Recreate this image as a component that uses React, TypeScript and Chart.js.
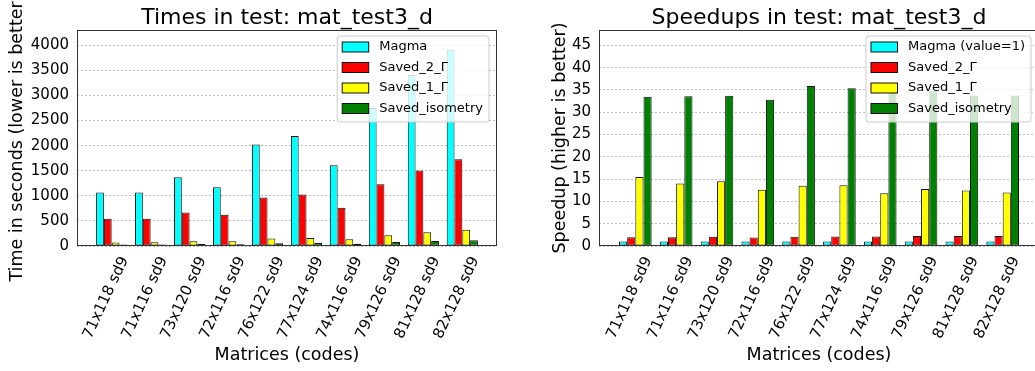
import React, { useEffect, useRef } from 'react';
import { Chart, registerables } from 'chart.js';

Chart.register(...registerables);

const FONT = "'DejaVu Sans', Verdana, sans-serif";

const categories = ['71x118 sd9', '71x116 sd9', '73x120 sd9', '72x116 sd9', '76x122 sd9', '77x124 sd9', '74x116 sd9', '79x126 sd9', '81x128 sd9', '82x128 sd9'];

const timeMagma = [1068, 1068, 1369, 1169, 2023, 2190, 1609, 2751, 3406, 3913];
const timeSaved2 = [541, 541, 668, 621, 968, 1028, 761, 1229, 1503, 1730];
const timeSaved1 = [69, 76, 94, 93, 150, 160, 136, 215, 274, 326];
const timeIsometry = [32, 32, 41, 36, 56, 62, 47, 79, 101, 116];

const speedMagma = [1, 1, 1, 1, 1, 1, 1, 1, 1, 1];
const speedSaved2 = [1.97, 1.97, 2.05, 1.88, 2.09, 2.13, 2.11, 2.24, 2.27, 2.26];
const speedSaved1 = [15.45, 14.0, 14.5, 12.6, 13.5, 13.65, 11.85, 12.8, 12.45, 12.0];
const speedIsometry = [33.45, 33.6, 33.7, 32.8, 35.9, 35.4, 34.4, 34.7, 33.75, 33.75];

const timeLabels = ['Magma', 'Saved_2_Γ', 'Saved_1_Γ', 'Saved_isometry'];
const speedLabels = ['Magma (value=1)', 'Saved_2_Γ', 'Saved_1_Γ', 'Saved_isometry'];
const colors = ['#00ffff', '#ff0000', '#ffff00', '#008000'];

const timeYTicks = [0, 500, 1000, 1500, 2000, 2500, 3000, 3500, 4000];
const speedYTicks = [0, 5, 10, 15, 20, 25, 30, 35, 40, 45];
const timeYMax = 4305;
const speedYMax = 48.45;

type PanelCfg = {
  left: number;
  width: number;
  yAxisWidth: number;
  padRight: number;
  title: string;
  yTitle: string;
  xTitle: string;
  yTitleX: number;
  labels: string[];
  series: number[][];
  yMax: number;
  yTicks: number[];
};

function decorPlugin(cfg: PanelCfg) {
  return {
    id: 'decor',
    afterDatasetsDraw(chart: any) {
      const { ctx, chartArea: a } = chart;
      ctx.save();
      ctx.strokeStyle = '#333333';
      ctx.lineWidth = 1;
      ctx.strokeRect(a.left + 0.5, a.top + 0.5, a.right - a.left - 1, a.bottom - a.top - 1);
      ctx.restore();
    },
    afterDraw(chart: any) {
      const { ctx, chartArea: a } = chart;
      ctx.save();
      ctx.fillStyle = '#000';
      ctx.font = `22px ${FONT}`;
      ctx.textAlign = 'center';
      ctx.textBaseline = 'alphabetic';
      ctx.fillText(cfg.title, (a.left + a.right) / 2, 24);
      ctx.font = `17.5px ${FONT}`;
      ctx.textBaseline = 'middle';
      ctx.fillText(cfg.xTitle, (a.left + a.right) / 2, 355);
      ctx.save();
      ctx.translate(cfg.yTitleX, (a.top + a.bottom) / 2);
      ctx.rotate(-Math.PI / 2);
      ctx.fillText(cfg.yTitle, 0, 0);
      ctx.restore();

      ctx.font = `13px ${FONT}`;
      const datasets = chart.data.datasets;
      let maxW = 0;
      datasets.forEach((d: any) => {
        maxW = Math.max(maxW, ctx.measureText(d.label).width);
      });
      const w = 42 + maxW + 6;
      const h = 86;
      const x = a.right - 8 - w;
      const y = a.top + 6;
      const r = 3;
      ctx.beginPath();
      ctx.moveTo(x + r, y);
      ctx.lineTo(x + w - r, y);
      ctx.arcTo(x + w, y, x + w, y + r, r);
      ctx.lineTo(x + w, y + h - r);
      ctx.arcTo(x + w, y + h, x + w - r, y + h, r);
      ctx.lineTo(x + r, y + h);
      ctx.arcTo(x, y + h, x, y + h - r, r);
      ctx.lineTo(x, y + r);
      ctx.arcTo(x, y, x + r, y, r);
      ctx.closePath();
      ctx.fillStyle = 'rgba(255,255,255,0.8)';
      ctx.fill();
      ctx.strokeStyle = '#cccccc';
      ctx.lineWidth = 1;
      ctx.stroke();
      datasets.forEach((d: any, i: number) => {
        const cy = y + 11 + i * 20.5;
        ctx.fillStyle = d.backgroundColor;
        ctx.fillRect(x + 5, cy - 5, 26.5, 10);
        ctx.strokeStyle = '#111';
        ctx.strokeRect(x + 5, cy - 5, 26.5, 10);
        ctx.fillStyle = '#000';
        ctx.textAlign = 'left';
        ctx.textBaseline = 'middle';
        ctx.fillText(d.label, x + 42, cy);
      });
      ctx.restore();
    },
  };
}

function Panel({ cfg }: { cfg: PanelCfg }) {
  const ref = useRef<HTMLCanvasElement>(null);
  useEffect(() => {
    const chart = new Chart(ref.current as HTMLCanvasElement, {
      type: 'bar',
      data: {
        datasets: cfg.series.map((vals, si) => ({
          label: cfg.labels[si],
          data: vals.map((v, i) => ({ x: i, y: v })),
          backgroundColor: colors[si],
          borderColor: '#111111',
          borderWidth: 1,
          borderSkipped: false,
          categoryPercentage: 0.8,
          barPercentage: 1.0,
        })),
      },
      options: {
        animation: false,
        responsive: false,
        maintainAspectRatio: false,
        layout: { padding: { top: 30, right: cfg.padRight, left: 0, bottom: 0 } },
        plugins: {
          legend: { display: false },
          title: { display: false },
          tooltip: { enabled: false },
        },
        scales: {
          x: {
            type: 'linear',
            min: -0.89,
            max: 9.89,
            offset: false,
            grid: { display: false, drawTicks: false, offset: false },
            border: { display: false },
            afterBuildTicks: (s: any) => {
              s.ticks = categories.map((_, i) => ({ value: i }));
            },
            ticks: {
              autoSkip: false,
              minRotation: 65,
              maxRotation: 65,
              padding: 8,
              labelOffset: 13,
              color: '#000',
              font: { family: FONT, size: 15 },
              callback: (v: any) => categories[v] ?? '',
            },
            afterFit: (s: any) => {
              s.height = 125;
            },
          },
          y: {
            min: 0,
            max: cfg.yMax,
            grid: { color: '#bdbdbd', lineWidth: 1, drawTicks: false },
            border: { display: false, dash: [2, 2] },
            afterBuildTicks: (s: any) => {
              s.ticks = cfg.yTicks.map((v) => ({ value: v }));
            },
            ticks: {
              autoSkip: false,
              padding: 8,
              color: '#000',
              font: { family: FONT, size: 15 },
              callback: (v: any) => String(v),
            },
            afterFit: (s: any) => {
              s.width = cfg.yAxisWidth;
            },
          },
        },
      } as any,
      plugins: [decorPlugin(cfg)],
    });
    return () => chart.destroy();
  }, []);
  return (
    <canvas
      ref={ref}
      width={cfg.width}
      height={371}
      style={{ position: 'absolute', left: cfg.left, top: 0, width: cfg.width, height: 371 }}
    />
  );
}

const leftCfg: PanelCfg = {
  left: 0,
  width: 517,
  yAxisWidth: 77,
  padRight: 20,
  title: 'Times in test: mat_test3_d',
  yTitle: 'Time in seconds (lower is better)',
  xTitle: 'Matrices (codes)',
  yTitleX: 17,
  labels: timeLabels,
  series: [timeMagma, timeSaved2, timeSaved1, timeIsometry],
  yMax: timeYMax,
  yTicks: timeYTicks,
};

const rightCfg: PanelCfg = {
  left: 517,
  width: 530,
  yAxisWidth: 82,
  padRight: 8,
  title: 'Speedups in test: mat_test3_d',
  yTitle: 'Speedup (higher is better)',
  xTitle: 'Matrices (codes)',
  yTitleX: 43,
  labels: speedLabels,
  series: [speedMagma, speedSaved2, speedSaved1, speedIsometry],
  yMax: speedYMax,
  yTicks: speedYTicks,
};

export default function App() {
  return (
    <div
      style={{
        position: 'absolute',
        left: 0,
        top: 0,
        width: 1035,
        height: 371,
        overflow: 'hidden',
        background: '#fff',
      }}
    >
      <Panel cfg={leftCfg} />
      <Panel cfg={rightCfg} />
    </div>
  );
}
